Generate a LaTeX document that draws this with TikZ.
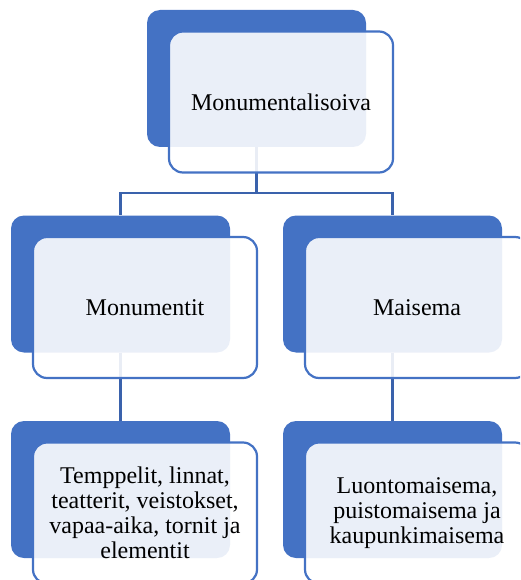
\documentclass[tikz,border=0pt]{standalone}
\usepackage{fontspec}
\setmainfont{Liberation Serif}
\definecolor{boxblue}{HTML}{4472C4}
\definecolor{lineblue}{HTML}{3A62AC}
\begin{document}
\begin{tikzpicture}[
        x = 1pt, y = -1pt,
        back/.style = {fill=boxblue, rounded corners=13pt, inner sep=0pt,
                       minimum width=219pt, minimum height=137pt},
        front/.style = {draw=boxblue, line width=2.2pt, fill=white, fill opacity=0.89,
                        text opacity=1, rounded corners=14pt, align=center,
                        minimum width=224pt, minimum height=141pt,
                        font=\fontsize{24}{25}\selectfont},
        conn/.style = {draw=lineblue, line width=2.2pt}
    ]
    \useasboundingbox (0,0) rectangle (520,580);
    \clip (0,0) rectangle (520,580);
    %--- Draw Back Boxes ---%
        \node (mb) [back] at (256.5,78.5) {};
        \node (lb) [back] at (120.5,284) {};
        \node (rb) [back] at (392.5,284) {};
        \node (llb) [back] at (120.5,489.5) {};
        \node (rrb) [back] at (392.5,489.5) {};
        %--- Draw Connectors ---%
        \coordinate (split) at (256.5,193);
        \draw[conn] (mb.south) -- (split) -| (lb.north);
        \draw[conn] (split) -| (rb.north);
        \draw[conn] (lb.south) -- (llb.north);
        \draw[conn] (rb.south) -- (rrb.north);
        %--- Draw Front Boxes ---%
        \node (mf) [front] at ([shift={(24.5,23.5)}]mb.center) {Monumentalisoiva};
        \node (lf) [front] at ([shift={(24.5,23.5)}]lb.center) {Monumentit};
        \node (rf) [front] at ([shift={(24.5,23.5)}]rb.center) {Maisema};
        \node (llf) [front] at ([shift={(24.5,23.5)}]llb.center)
            {Temppelit, linnat,\\teatterit, veistokset,\\vapaa-aika, tornit ja\\elementit};
        \node (rrf) [front] at ([shift={(24.5,23.5)}]rrb.center)
            {Luontomaisema,\\puistomaisema ja\\kaupunkimaisema};
    \end{tikzpicture}
\end{document}
